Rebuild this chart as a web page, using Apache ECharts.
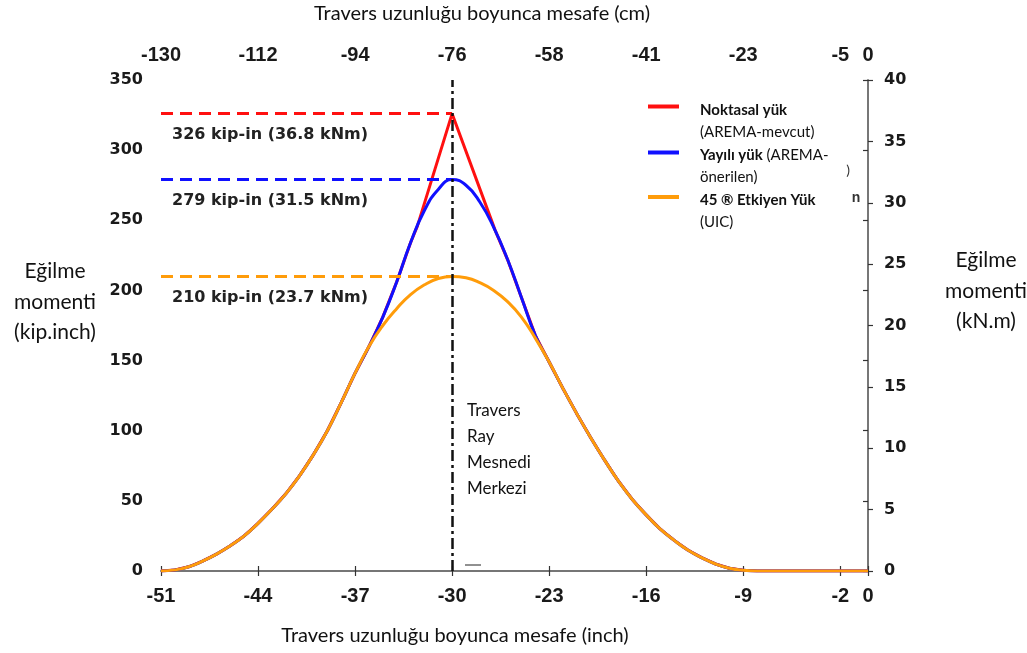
<!DOCTYPE html>
<html>
<head>
<meta charset="utf-8">
<script src="https://cdn.jsdelivr.net/npm/echarts@6/dist/echarts.min.js"></script>
<style>
  html, body { margin: 0; padding: 0; background: #fff; }
  #chart { width: 1027px; height: 653px; }
</style>
</head>
<body>
<div id="chart"></div>
<script>
// Position along the sleeper (inch) and the matching centimetre tick labels
const inchTicks = [-51, -44, -37, -30, -23, -16, -9, -2, 0];
const cmTicks = [-130, -112, -94, -76, -58, -41, -23, -5, 0];

// Sample positions (inch) shared by the distributed and 45° curves
const xInch = [-51, -50, -49, -48, -47, -46, -45, -44, -43, -42, -41, -40, -39, -38, -37, -36,
  -35, -34, -33, -32, -31, -30, -29, -28, -27, -26, -25, -24, -23, -22, -21, -20, -19, -18,
  -17, -16, -15, -14, -13, -12, -11, -10, -9, -8, -7, -6, -5, -4, -3, -2, -1, 0];

// 45° Etkiyen Yük (UIC), kip-in
const uicMoment = [0, 0.8, 3, 7, 12, 18, 25, 34, 44, 55, 68, 83, 100, 120, 141, 160,
  175, 187, 197, 204, 208.5, 210, 209, 205.5, 200, 192, 181, 166, 149, 130, 112, 95, 79, 64,
  51, 40, 30, 22, 15, 9.5, 5, 2, 0.5, 0, 0, 0, 0, 0, 0, 0, 0, 0];

// Yayılı yük (AREMA-önerilen), kip-in
const distMoment = [0, 0.8, 3, 7, 12, 18, 25, 34, 44, 55, 68, 83, 100, 120, 141, 160,
  181, 206, 234, 257, 272, 279, 275, 263, 245, 222, 195, 168, 149, 130, 112, 95, 79, 64,
  51, 40, 30, 22, 15, 9.5, 5, 2, 0.5, 0, 0, 0, 0, 0, 0, 0, 0, 0];

// Noktasal yük (AREMA-mevcut): its own sample positions around the sharp peak
const pointX = [-51, -50, -49, -48, -47, -46, -45, -44, -43, -42, -41, -40, -39, -38, -37, -36,
  -35, -34, -33, -32.5, -30, -26.9, -26, -25, -24, -23, -22, -21, -20, -19, -18,
  -17, -16, -15, -14, -13, -12, -11, -10, -9, -8, 0];
const pointMoment = [0, 0.8, 3, 7, 12, 18, 25, 34, 44, 55, 68, 83, 100, 120, 141, 160,
  181, 206, 234, 246, 326, 243, 222, 195, 168, 149, 130, 112, 95, 79, 64,
  51, 40, 30, 22, 15, 9.5, 5, 2, 0.5, 0, 0];

// Peak values written next to the dashed reference lines
const peakKip = [326, 279, 210];
const peakKNm = [36.8, 31.5, 23.7];
const peakX = -30;

const seriesNames = ['Noktasal yük', 'Yayılı yük', '45 ® Etkiyen Yük'];
const colors = ['#ff1010', '#1010ff', '#ff9c0a'];

const zip = (xs, ys) => xs.map((x, i) => [x, ys[i]]);

const labelFont = { fontFamily: 'DejaVu Sans, sans-serif', fontWeight: 'bold', fontSize: 16, color: '#222' };
const tickLabelX = { fontFamily: 'Liberation Sans, Arial, sans-serif', fontWeight: 'bold', fontSize: 20, color: '#1a1a1a' };
const tickLabelY = { fontFamily: 'DejaVu Sans, sans-serif', fontWeight: 'bold', fontSize: 16, color: '#1a1a1a' };
const axisLine = { show: true, lineStyle: { color: '#6e6e6e', width: 1.5 } };
const axisTick = { show: true, length: 5, lineStyle: { color: '#333', width: 1.2 } };

function peakLine(i) {
  return {
    silent: true,
    symbol: 'none',
    lineStyle: { color: colors[i], type: [12, 7], width: 3 },
    label: {
      show: true,
      position: 'insideStartBottom',
      distance: [11, 13],
      formatter: peakKip[i] + ' kip-in (' + peakKNm[i] + ' kNm)',
      ...labelFont
    },
    data: [[{ coord: [-51, peakKip[i]] }, { coord: [peakX, peakKip[i]] }]]
  };
}

const chart = echarts.init(document.getElementById('chart'), null, { renderer: 'canvas' });

const titleFont = 'Lato, "Open Sans", sans-serif';

chart.setOption({
  animation: false,
  backgroundColor: '#ffffff',
  grid: { left: 161, right: 159, top: 80, bottom: 82 },
  xAxis: [
    {
      type: 'value', position: 'bottom', min: -51, max: 0, interval: 7,
      axisLine, axisTick,
      axisLabel: { margin: 15, ...tickLabelX },
      splitLine: { show: false }
    },
    {
      type: 'value', position: 'top', min: -51, max: 0, interval: 7,
      axisLine, axisTick,
      axisLabel: {
        margin: 15, ...tickLabelX,
        formatter: v => {
          const k = inchTicks.indexOf(Math.round(v));
          return k >= 0 ? String(cmTicks[k]) : '';
        }
      },
      splitLine: { show: false }
    }
  ],
  yAxis: [
    {
      type: 'value', position: 'left', min: 0, max: 350, interval: 50,
      axisLine, axisTick,
      axisLabel: { margin: 18, ...tickLabelY },
      splitLine: { show: false }
    },
    {
      type: 'value', position: 'right', min: 0, max: 40, interval: 5,
      axisLine, axisTick,
      axisLabel: { margin: 16, ...tickLabelY },
      splitLine: { show: false }
    }
  ],
  series: [
    {
      name: seriesNames[0], type: 'line', xAxisIndex: 0, yAxisIndex: 0,
      data: zip(pointX, pointMoment), showSymbol: false, smooth: false,
      lineStyle: { color: colors[0], width: 3 }, z: 2,
      markLine: peakLine(0)
    },
    {
      name: seriesNames[1], type: 'line', xAxisIndex: 0, yAxisIndex: 0,
      data: zip(xInch, distMoment), showSymbol: false, smooth: 0.5,
      lineStyle: { color: colors[1], width: 3 }, z: 3,
      markLine: peakLine(1)
    },
    {
      name: seriesNames[2], type: 'line', xAxisIndex: 0, yAxisIndex: 0,
      data: zip(xInch, uicMoment), showSymbol: false, smooth: 0.5,
      lineStyle: { color: colors[2], width: 3 }, z: 4,
      markLine: peakLine(2)
    },
    {
      // rail seat centre line
      name: 'center', type: 'line', xAxisIndex: 0, yAxisIndex: 0,
      data: [], z: 5,
      markLine: {
        silent: true, symbol: 'none',
        lineStyle: { color: '#111', type: [11, 4, 3, 4], width: 2.5 },
        label: { show: false },
        data: [{ xAxis: peakX }]
      }
    }
  ],
  graphic: [
    // axis titles
    { type: 'text', x: 482, y: 14, style: { text: 'Travers uzunluğu boyunca mesafe (cm)', fill: '#111', fontFamily: titleFont, fontSize: 20, align: 'center', verticalAlign: 'middle', textAlign: 'center', textVerticalAlign: 'middle' } },
    { type: 'text', x: 455, y: 636, style: { text: 'Travers uzunluğu boyunca mesafe (inch)', fill: '#111', fontFamily: titleFont, fontSize: 20, align: 'center', verticalAlign: 'middle', textAlign: 'center', textVerticalAlign: 'middle' } },
    { type: 'text', x: 55, y: 302, style: { text: 'Eğilme\nmomenti\n(kip.inch)', fill: '#111', fontFamily: titleFont, fontSize: 21, lineHeight: 30.5, align: 'center', verticalAlign: 'middle', textAlign: 'center', textVerticalAlign: 'middle' } },
    { type: 'text', x: 986, y: 291, style: { text: 'Eğilme\nmomenti\n(kN.m)', fill: '#111', fontFamily: titleFont, fontSize: 21, lineHeight: 30.5, align: 'center', verticalAlign: 'middle', textAlign: 'center', textVerticalAlign: 'middle' } },
    // rail seat annotation
    { type: 'text', x: 467, y: 449.5, z: 10, style: { text: 'Travers\nRay\nMesnedi\nMerkezi', fill: '#111', fontFamily: titleFont, fontSize: 17, lineHeight: 25.8, align: 'left', verticalAlign: 'middle', textAlign: 'left', textVerticalAlign: 'middle' } },
    { type: 'line', shape: { x1: 465, y1: 565, x2: 481, y2: 565 }, style: { stroke: '#222', lineWidth: 1 } },
    // legend
    { type: 'line', shape: { x1: 648, y1: 106.5, x2: 679, y2: 106.5 }, style: { stroke: colors[0], lineWidth: 4 } },
    { type: 'line', shape: { x1: 648, y1: 152.5, x2: 679, y2: 152.5 }, style: { stroke: colors[1], lineWidth: 4 } },
    { type: 'line', shape: { x1: 648, y1: 197, x2: 679, y2: 197 }, style: { stroke: colors[2], lineWidth: 4 } },
    {
      type: 'text', x: 700, y: 99, z: 10,
      style: {
        text: '{b|' + seriesNames[0] + '}\n(AREMA-mevcut)\n{b|Yayılı yük} (AREMA-\nönerilen)\n{b|' + seriesNames[2] + '}\n(UIC)',
        fill: '#111', fontFamily: titleFont, fontSize: 15, lineHeight: 22.4,
        align: 'left', verticalAlign: 'top', textAlign: 'left', textVerticalAlign: 'top',
        rich: { b: { fontWeight: 'bold', fontFamily: titleFont, fontSize: 15, lineHeight: 22.4, fill: '#111' } }
      }
    },
    // stray glyph fragments near the right axis
    { type: 'text', x: 848, y: 170, style: { text: ')', fill: '#333', fontFamily: titleFont, fontSize: 14, align: 'center', verticalAlign: 'middle' } },
    { type: 'text', x: 856, y: 198, style: { text: 'n', fill: '#333', fontFamily: 'Liberation Sans', fontWeight: 'bold', fontSize: 14, align: 'center', verticalAlign: 'middle' } }
  ]
});
</script>
</body>
</html>
